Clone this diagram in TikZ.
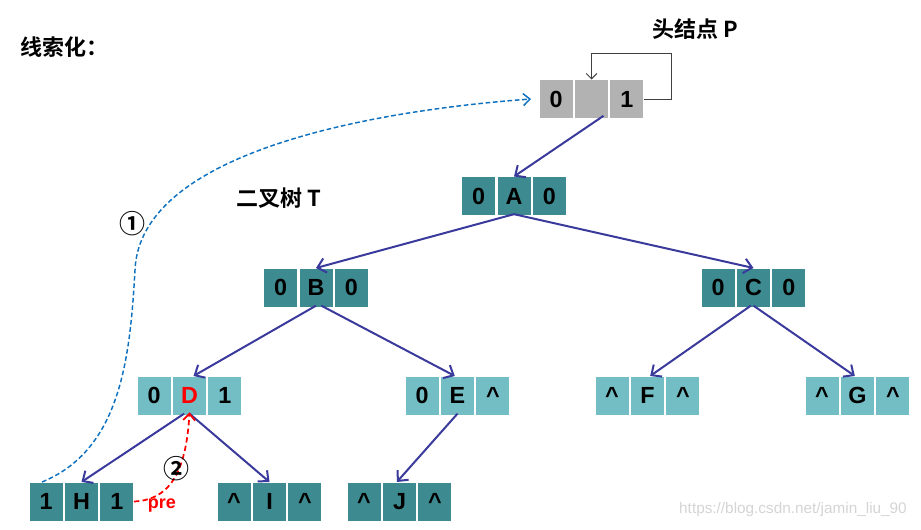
\documentclass[tikz,border=0pt]{standalone}
\usepackage{fontspec}
\setmainfont{Liberation Sans}
\newfontfamily\cjk{Noto Sans CJK SC}[BoldFont={Noto Sans CJK SC Bold}]
\usetikzlibrary{positioning,arrows.meta}
\definecolor{darkteal}{HTML}{3D8B90}
\definecolor{lightteal}{HTML}{73BEC4}
\definecolor{headgray}{HTML}{B2B2B2}
\definecolor{treeblue}{HTML}{3A3A9C}
\definecolor{threadblue}{HTML}{0E71C0}
\definecolor{markgray}{HTML}{D4D4D4}
\tikzset{every picture/.style={line width=0.75pt}}
\tikzset{
	cell/.style={minimum width=24.75pt, minimum height=28.5pt, inner sep=0pt, font=\fontsize{17.5}{20}\selectfont\bfseries},
	dcell/.style={cell, fill=darkteal},
	lcell/.style={cell, fill=lightteal},
	pcell/.style={cell, fill=headgray},
	link/.style={draw=treeblue, line width=1.5pt, -{Straight Barb[length=6pt,width=11pt]}},
	title/.style={font=\cjk\fontsize{16.5}{20}\selectfont\bfseries},
	circnum/.style={font=\cjk\fontsize{19.5}{20}\selectfont\bfseries}
}

\begin{document}
\begin{tikzpicture}[x=0.75pt,y=0.75pt,yscale=-1,xscale=1]
	\useasboundingbox (0,0) rectangle (921,529);

	% Text Node
	\draw (64,47) node [title] (ttl) {线索化：};
	% Text Node
	\draw (279,198) node [title] (treelbl) {二叉树 T};
	% Text Node
	\draw (695,29) node [title] (headlbl) {头结点 P};

	%Head node P
	\node [pcell] (P) at (591.5,99) {};
	\node [pcell, left=1.1pt of P] (Pl) {0};
	\node [pcell, right=1.1pt of P] (Pr) {1};
	%Node A
	\node [dcell] (A) at (514,196) {A};
	\node [dcell, left=1.1pt of A] (Al) {0};
	\node [dcell, right=1.1pt of A] (Ar) {0};
	%Node B
	\node [dcell] (B) at (316,287.5) {B};
	\node [dcell, left=1.1pt of B] (Bl) {0};
	\node [dcell, right=1.1pt of B] (Br) {0};
	%Node C
	\node [dcell] (C) at (753.5,287.5) {C};
	\node [dcell, left=1.1pt of C] (Cl) {0};
	\node [dcell, right=1.1pt of C] (Cr) {0};
	%Node D
	\node [lcell] (D) at (189.5,395.5) {\textcolor{red}{D}};
	\node [lcell, left=1.1pt of D] (Dl) {0};
	\node [lcell, right=1.1pt of D] (Dr) {1};
	%Node E
	\node [lcell] (E) at (457.5,395.5) {E};
	\node [lcell, left=1.1pt of E] (El) {0};
	\node [lcell, right=1.1pt of E] (Er) {\^{}};
	%Node F
	\node [lcell] (F) at (647.5,395.5) {F};
	\node [lcell, left=1.1pt of F] (Fl) {\^{}};
	\node [lcell, right=1.1pt of F] (Fr) {\^{}};
	%Node G
	\node [lcell] (G) at (857.5,395.5) {G};
	\node [lcell, left=1.1pt of G] (Gl) {\^{}};
	\node [lcell, right=1.1pt of G] (Gr) {\^{}};
	%Node H
	\node [dcell] (H) at (81.5,501.5) {H};
	\node [dcell, left=1.1pt of H] (Hl) {1};
	\node [dcell, right=1.1pt of H] (Hr) {1};
	%Node I
	\node [dcell] (I) at (269.5,501.5) {I};
	\node [dcell, left=1.1pt of I] (Il) {\^{}};
	\node [dcell, right=1.1pt of I] (Ir) {\^{}};
	%Node J
	\node [dcell] (J) at (399.5,501.5) {J};
	\node [dcell, left=1.1pt of J] (Jl) {\^{}};
	\node [dcell, right=1.1pt of J] (Jr) {\^{}};

	%Head loop
	\coordinate (Pturn) at (671,53);
	\draw [draw=black!75, -{Straight Barb[length=4pt,width=8pt]}] (Pr.east) -| (Pturn) -| (P.north);

	%Tree links
	\draw [link] ([xshift=9pt,yshift=-2pt]P.south) -- (A.north);
	\draw [link] ([yshift=-1pt]A.south) -- (B.north);
	\draw [link] ([yshift=-1pt]A.south) -- (C.north);
	\draw [link] ([yshift=-1pt]B.south) -- ([xshift=3pt]D.north);
	\draw [link] ([xshift=4pt,yshift=-1pt]B.south) -- ([xshift=-2pt]E.north);
	\draw [link] ([xshift=-2pt,yshift=-1pt]C.south) -- ([xshift=2pt]F.north);
	\draw [link] ([yshift=-1pt]C.south) -- ([xshift=-2pt]G.north);
	\draw [link] ([xshift=-4pt,yshift=-1pt]D.south) -- (H.north);
	\draw [link] ([yshift=-1pt]D.south) -- (I.north);
	\draw [link] ([yshift=-1pt]E.south) -- ([xshift=-2pt]J.north);

	%Thread 1: H to head
	\draw [threadblue, line width=1.1pt, dash pattern=on 3.5pt off 2pt, -{Straight Barb[length=5pt,width=9pt]}] ([xshift=-3pt]Hl.north) .. controls (120,450) and (130,360) .. (135,270) .. controls (140,150) and (380,110) .. ([xshift=-6pt]Pl.west);
	% Text Node
	\draw (132,224) node [circnum] (c1) {①};

	%Thread 2: H to D (pre)
	\draw [red, line width=1.3pt, dash pattern=on 4pt off 2.5pt, -{Straight Barb[length=5pt,width=9pt]}] (Hr.east) .. controls (168,500) and (186,475) .. ([yshift=-2pt]D.south);
	% Text Node
	\draw (176,469) node [circnum] (c2) {②};
	% Text Node
	\draw (162,506) node [text=red, font=\fontsize{13.5}{15}\selectfont\bfseries] (pre) {pre};

	% Text Node
	\draw (793,510) node [text=markgray, font=\fontsize{11.5}{13}\selectfont] (mark) {https://blog.csdn.net/jamin\_liu\_90};

\end{tikzpicture}
\end{document}
